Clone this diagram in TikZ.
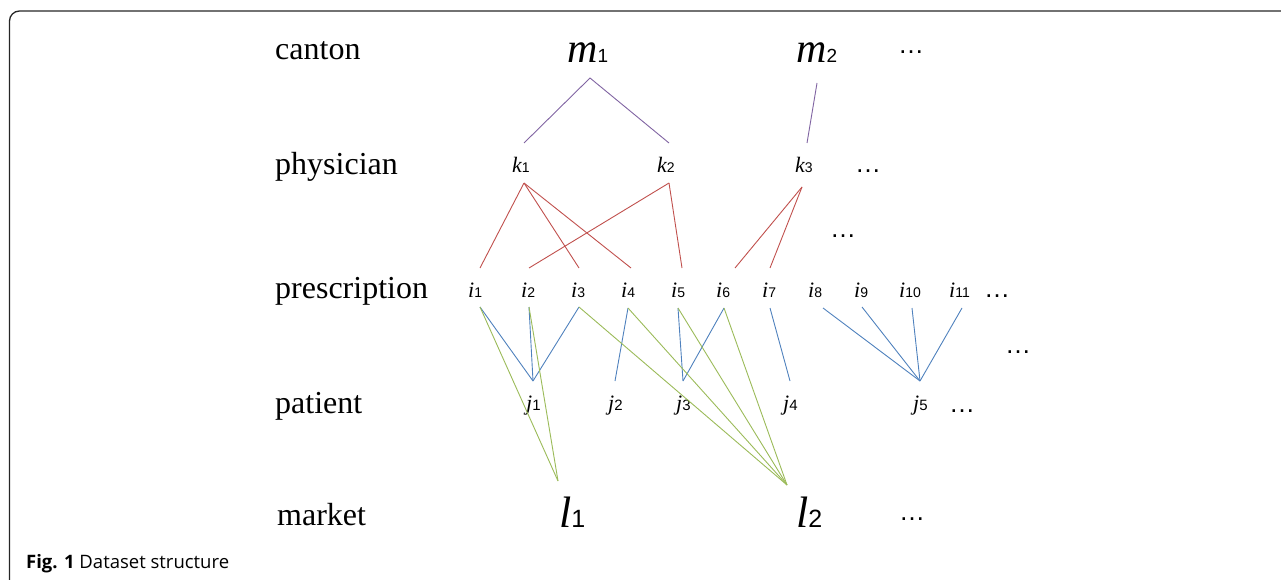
\documentclass[tikz,border=0pt]{standalone}
\usepackage{fontspec}
\setmainfont{Liberation Serif}
\newfontfamily\sansf{Liberation Sans}
\newfontfamily\capf{Open Sans}
\definecolor{purp}{HTML}{8064A2}
\definecolor{redl}{HTML}{C0504D}
\definecolor{bluel}{HTML}{4F81BD}
\definecolor{greenl}{HTML}{9BBB59}
\newcommand\vr[4]{{\fontsize{#1}{#1}\selectfont\itshape #2}{\fontsize{#3}{#3}\sansf #4}}
\tikzset{
  rowlab/.style={anchor=base west, inner sep=0pt, font=\fontsize{32}{32}\selectfont},
  varlab/.style={anchor=base west, inner sep=0pt},
  dotlab/.style={anchor=base west, inner sep=0pt, font=\fontsize{26}{26}\sansf},
  pe/.style={draw=purp, line width=0.9pt},
  re/.style={draw=redl, line width=0.9pt},
  be/.style={draw=bluel, line width=0.9pt},
  ge/.style={draw=greenl, line width=0.9pt},
}
\begin{document}
\begin{tikzpicture}[x=1pt,y=-1pt]
\useasboundingbox (0,0) rectangle (1281,580);
% frame
\draw[line width=1.3pt, draw=black!85, rounded corners=10pt] (9.5,585) -- (9.5,11) -- (1290,11);
% row labels
\node[rowlab] (rcanton) at (275,60) {canton};
\node[rowlab] (rphys) at (275,175) {physician};
\node[rowlab] (rpres) at (275,298) {prescription};
\node[rowlab] (rpat) at (275,413) {patient};
\node[rowlab] (rmark) at (277,525) {market};
% canton
\node[varlab] (m1) at (567,63) {\vr{42}{m}{19}{1}};
\node[varlab] (m2) at (796,63) {\vr{42}{m}{19}{2}};
\node[dotlab] (d1) at (898,54) {…};
% physicians
\node[varlab] (k1) at (512,172) {\vr{22}{k}{14}{1}};
\node[varlab] (k2) at (657,172) {\vr{22}{k}{14}{2}};
\node[varlab] (k3) at (795,172) {\vr{22}{k}{14}{3}};
\node[dotlab] (d2) at (855,173) {…};
\node[dotlab] (d3) at (830,237) {…};
% prescriptions
\node[varlab] (i1) at (468,297) {\vr{22}{i}{14}{1}};
\node[varlab] (i2) at (521,297) {\vr{22}{i}{14}{2}};
\node[varlab] (i3) at (571,297) {\vr{22}{i}{14}{3}};
\node[varlab] (i4) at (621,297) {\vr{22}{i}{14}{4}};
\node[varlab] (i5) at (671,297) {\vr{22}{i}{14}{5}};
\node[varlab] (i6) at (716,297) {\vr{22}{i}{14}{6}};
\node[varlab] (i7) at (762,297) {\vr{22}{i}{14}{7}};
\node[varlab] (i8) at (808,297) {\vr{22}{i}{14}{8}};
\node[varlab] (i9) at (854,297) {\vr{22}{i}{14}{9}};
\node[varlab] (i10) at (899,297) {\vr{22}{i}{14}{10}};
\node[varlab] (i11) at (949,297) {\vr{22}{i}{14}{11}};
\node[dotlab] (d4) at (984,297) {…};
\node[dotlab] (d5) at (1005,353) {…};
% patients
\node[varlab] (j1) at (526,410) {\vr{22}{j}{15}{1}};
\node[varlab] (j2) at (608,410) {\vr{22}{j}{15}{2}};
\node[varlab] (j3) at (676,410) {\vr{22}{j}{15}{3}};
\node[varlab] (j4) at (783,410) {\vr{22}{j}{15}{4}};
\node[varlab] (j5) at (913,410) {\vr{22}{j}{15}{5}};
\node[dotlab] (d6) at (949,412) {…};
% markets
\node[varlab] (l1) at (559,527) {\vr{44}{l}{25}{1}};
\node[varlab] (l2) at (796,527) {\vr{44}{l}{25}{2}};
\node[dotlab] (d7) at (899,520) {…};
% caption
\node[anchor=base west, inner sep=0pt] (cap) at (26,568) {\capf\fontsize{18.5}{18.5}\selectfont\textbf{Fig. 1} Dataset structure};
% connector ends
\coordinate (m1b) at (590,78);
\coordinate (m2b) at (817,83);
\coordinate (k1t) at (524,143);
\coordinate (k2t) at (669,143);
\coordinate (k3t) at (807,143);
\coordinate (k1b) at (524,183);
\coordinate (k2b) at (669,183);
\coordinate (k3b) at (802,187);
\coordinate (i1t) at (480,268);
\coordinate (i2t) at (529,268);
\coordinate (i3t) at (579,268);
\coordinate (i4t) at (631,268);
\coordinate (i5t) at (682,268);
\coordinate (i6t) at (735,268);
\coordinate (i7t) at (770,268);
\coordinate (i1b) at (480,307);
\coordinate (i2b) at (529,307);
\coordinate (i3b) at (579,307);
\coordinate (i4b) at (628,308);
\coordinate (i5b) at (678,308);
\coordinate (i6b) at (724,308);
\coordinate (i7b) at (770,308);
\coordinate (i8b) at (823,308);
\coordinate (i9b) at (862,307);
\coordinate (i10b) at (912,308);
\coordinate (i11b) at (962,308);
\coordinate (j1t) at (533,381);
\coordinate (j2t) at (615,381);
\coordinate (j3t) at (683,381);
\coordinate (j4t) at (790,381);
\coordinate (j5t) at (920,381);
\coordinate (l1t) at (558,481);
\coordinate (l2t) at (787,485);
% canton - physician
\draw[pe] (k1t) -- (m1b) -- (k2t);
\draw[pe] (m2b) -- (k3t);
% physician - prescription
\draw[re] (k1b) -- (i1t);
\draw[re] (k1b) -- (i3t);
\draw[re] (k1b) -- (i4t);
\draw[re] (k2b) -- (i2t);
\draw[re] (k2b) -- (i5t);
\draw[re] (k3b) -- (i6t);
\draw[re] (k3b) -- (i7t);
% prescription - patient
\draw[be] (i1b) -- (j1t);
\draw[be] (i2b) -- (j1t);
\draw[be] (i3b) -- (j1t);
\draw[be] (i4b) -- (j2t);
\draw[be] (i5b) -- (j3t);
\draw[be] (i6b) -- (j3t);
\draw[be] (i7b) -- (j4t);
\draw[be] (i8b) -- (j5t);
\draw[be] (i9b) -- (j5t);
\draw[be] (i10b) -- (j5t);
\draw[be] (i11b) -- (j5t);
% prescription - market
\draw[ge] (i1b) -- (l1t);
\draw[ge] (i2b) -- (l1t);
\draw[ge] (i3b) -- (l2t);
\draw[ge] (i4b) -- (l2t);
\draw[ge] (i5b) -- (l2t);
\draw[ge] (i6b) -- (l2t);
\end{tikzpicture}
\end{document}
